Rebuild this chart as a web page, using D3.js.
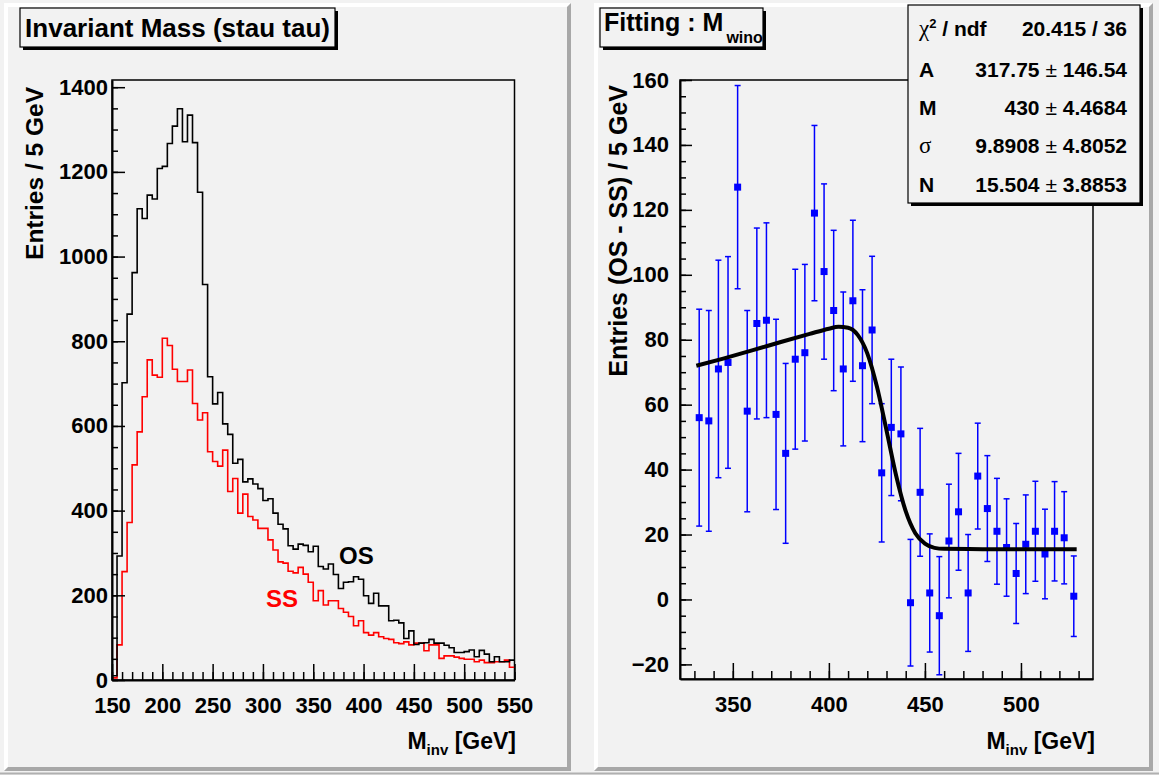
<!DOCTYPE html>
<html>
<head>
<meta charset="utf-8">
<script src="https://cdn.jsdelivr.net/npm/d3@7"></script>
<style>
  body { margin: 0; background: #f2f2f2; }
  text { font-family: "Liberation Sans", Arial, Helvetica, sans-serif; font-weight: bold; fill: #000; }
  .sym { font-family: "Liberation Serif", "Times New Roman", serif; font-weight: normal; }
</style>
</head>
<body>
<svg id="chart" width="1159" height="775"></svg>
<script>
// ---- left pad: invariant mass, 5 GeV bins from 150 to 550
var massBinLow = 150;
var massBinWidth = 5;
var osCounts = [10, 293, 702, 864, 962, 1113, 1090, 1145, 1136, 1208,
    1213, 1267, 1308, 1349, 1271, 1334, 1269, 1152, 934, 716,
    652, 679, 605, 580, 512, 521, 468, 475, 463, 452,
    424, 428, 394, 368, 357, 317, 309, 321, 318, 303,
    316, 268, 262, 274, 249, 216, 231, 232, 244, 238,
    199, 181, 205, 175, 175, 140, 141, 135, 98, 116,
    84, 87, 88, 96, 87, 87, 82, 76, 65, 65,
    67, 71, 55, 70, 61, 43, 55, 43, 43, 47];
var ssCounts = [5, 83, 256, 372, 508, 586, 669, 756, 720, 715,
    807, 790, 734, 705, 705, 732, 653, 614, 631, 539,
    516, 505, 543, 445, 476, 394, 439, 386, 378, 358,
    358, 331, 307, 279, 276, 257, 253, 266, 250, 231,
    187, 211, 177, 187, 187, 169, 160, 150, 128, 140,
    112, 106, 112, 102, 98, 96, 88, 86, 90, 83,
    87, 87, 69, 83, 83, 51, 57, 57, 54, 51,
    49, 49, 43, 47, 41, 41, 43, 43, 47, 30];
var leftXTicks = [150, 200, 250, 300, 350, 400, 450, 500, 550];
var leftYTicks = [0, 200, 400, 600, 800, 1000, 1200, 1400];

// ---- right pad: OS - SS with fit
var diffMass = [332.5, 337.5, 342.5, 347.5, 352.5, 357.5, 362.5, 367.5, 372.5, 377.5,
    382.5, 387.5, 392.5, 397.5, 402.5, 407.5, 412.5, 417.5, 422.5, 427.5,
    432.5, 437.5, 442.5, 447.5, 452.5, 457.5, 462.5, 467.5, 472.5, 477.5,
    482.5, 487.5, 492.5, 497.5, 502.5, 507.5, 512.5, 517.5, 522.5, 527.5];
var diffEntries = [56, 55, 71, 73, 127, 58, 85, 86, 57, 45,
    74, 76, 119, 101, 89, 71, 92, 72, 83, 39,
    53, 51, -1, 33, 2, -5, 18, 27, 2, 38,
    28, 21, 16, 8, 17, 21, 14, 21, 19, 1];
var diffErrors = [33.4, 34, 33.5, 32.6, 31.3, 31, 29.4, 30, 29.3, 27.7,
    27.7, 27.2, 27, 27, 24.7, 23.7, 24.8, 23.4, 22.7, 21.3,
    21, 20.6, 19.5, 19.7, 18.2, 18.2, 17.5, 18, 18, 16.3,
    16.3, 16.3, 15, 15.4, 15.2, 15.4, 13.8, 15.3, 14.2, 12.4];
var fitMass = [331, 345, 360, 375, 390, 400, 405, 410, 415, 420, 425,
    430, 435, 440, 445, 450, 455, 460, 480, 505, 529];
var fitValue = [72, 74.2, 76.7, 79.3, 81.8, 83.4, 84, 83.7, 81.5, 75.8, 65.6,
    52.1, 38.2, 27.2, 20.4, 17.2, 15.9, 15.6, 15.5, 15.5, 15.5];
var rightXTicks = [350, 400, 450, 500];
var rightYTicks = [-20, 0, 20, 40, 60, 80, 100, 120, 140, 160];

var statNames = ["ndf", "A", "M", "σ", "N"];
var statValues = ["20.415 / 36", "317.75", "430", "9.8908", "15.504"];
var statErrors = [null, "146.54", "4.4684", "4.8052", "3.8853"];

var svg = d3.select("#chart");

// pads with bevel
function drawPad(x0, y0, x1, y1) {
    var b = 4;
    svg.append("rect").attr("x", x0).attr("y", y0).attr("width", x1 - x0).attr("height", y1 - y0)
        .attr("fill", "#f2f2f2");
    svg.append("polygon")
        .attr("points", [[x0, y0], [x1, y0], [x1 - b, y0 + b], [x0 + b, y0 + b], [x0 + b, y1 - b], [x0, y1]].join(" "))
        .attr("fill", "#ffffff");
    svg.append("polygon")
        .attr("points", [[x1, y0], [x1, y1], [x0, y1], [x0 + b, y1 - b], [x1 - b, y1 - b], [x1 - b, y0 + b]].join(" "))
        .attr("fill", "#a8a8a8");
}
svg.append("rect").attr("width", 1159).attr("height", 775).attr("fill", "#f2f2f2");
svg.append("line").attr("x1", 0).attr("x2", 1159).attr("y1", 773.5).attr("y2", 773.5).attr("stroke", "#b0b0b0").attr("stroke-width", 2);
drawPad(4, 3, 571, 771);
drawPad(594, 3, 1153, 771);

function titleBox(x, y, w, h) {
    svg.append("rect").attr("x", x + 3).attr("y", y + 3).attr("width", w).attr("height", h).attr("fill", "#000");
    svg.append("rect").attr("x", x).attr("y", y).attr("width", w).attr("height", h)
        .attr("fill", "#f2f2f2").attr("stroke", "#000").attr("stroke-width", 1.2);
}

function styleAxis(g) {
    g.select(".domain").attr("stroke-width", 2);
    g.selectAll(".tick line").attr("stroke-width", 1.5);
    g.selectAll("text").attr("font-size", 22).attr("fill", "#000");
}

// ================= left pad =================
var xL = d3.scaleLinear().domain([150, 550]).range([112, 514.5]);
var yL = d3.scaleLinear().domain([0, 1417]).range([680, 80]);

var left = svg.append("g");
left.append("rect").attr("x", 112).attr("y", 80).attr("width", 402.5).attr("height", 600)
    .attr("fill", "none").attr("stroke", "#000").attr("stroke-width", 1.5);

function stepData(counts) {
    var pts = counts.map(function(c, i) { return [massBinLow + i * massBinWidth, c]; });
    pts.push([massBinLow + counts.length * massBinWidth, counts[counts.length - 1]]);
    return pts;
}
var histLine = d3.line().curve(d3.curveStepAfter)
    .x(function(d) { return xL(d[0]); })
    .y(function(d) { return yL(d[1]); });

left.append("path").datum(stepData(ssCounts)).attr("d", histLine)
    .attr("fill", "none").attr("stroke", "#ff0000").attr("stroke-width", 1.6);
left.append("path").datum(stepData(osCounts)).attr("d", histLine)
    .attr("fill", "none").attr("stroke", "#000").attr("stroke-width", 1.6);

// minor ticks
left.append("g").attr("transform", "translate(112,0)")
    .call(d3.axisLeft(yL).tickValues(d3.range(0, 1401, 50)).tickSize(-6).tickFormat(""))
    .call(function(g) { g.select(".domain").remove(); g.selectAll("line").attr("stroke-width", 1.5); });
left.append("g").attr("transform", "translate(0,680)")
    .call(d3.axisBottom(xL).tickValues(d3.range(150, 551, 10)).tickSize(-8).tickFormat(""))
    .call(function(g) { g.select(".domain").remove(); g.selectAll("line").attr("stroke-width", 1.5); });
// major ticks + labels
left.append("g").attr("transform", "translate(112,0)")
    .call(d3.axisLeft(yL).tickValues(leftYTicks).tickSize(-13).tickSizeOuter(0).tickPadding(4).tickFormat(d3.format("d")))
    .call(styleAxis);
left.append("g").attr("transform", "translate(0,680)")
    .call(d3.axisBottom(xL).tickValues(leftXTicks).tickSize(-16).tickSizeOuter(0).tickPadding(17).tickFormat(d3.format("d")))
    .call(styleAxis);

left.append("text").attr("transform", "translate(43,87) rotate(-90)")
    .attr("text-anchor", "end").attr("font-size", 24.5).text("Entries / 5 GeV");
var lx = left.append("text").attr("x", 516).attr("y", 749).attr("text-anchor", "end").attr("font-size", 23);
lx.append("tspan").text("M");
lx.append("tspan").attr("font-size", 15).attr("dy", 6).text("inv");
lx.append("tspan").attr("dy", -6).text(" [GeV]");

left.append("text").attr("x", 339).attr("y", 564).attr("font-size", 24).text("OS");
left.append("text").attr("x", 266).attr("y", 607).attr("font-size", 24).style("fill", "#ff0000").text("SS");

titleBox(20, 8, 315, 39);
svg.append("text").attr("x", 177.5).attr("y", 37).attr("text-anchor", "middle").attr("font-size", 26)
    .text("Invariant Mass (stau tau)");

// ================= right pad =================
var xR = d3.scaleLinear().domain([322.5, 537.5]).range([680, 1093]);
var yR = d3.scaleLinear().domain([-24.5, 160]).range([679, 80]);

var right = svg.append("g");
right.append("rect").attr("x", 680).attr("y", 80).attr("width", 413).attr("height", 599)
    .attr("fill", "none").attr("stroke", "#000").attr("stroke-width", 1.5);

right.append("g").attr("transform", "translate(680,0)")
    .call(d3.axisLeft(yR).tickValues(d3.range(-20, 161, 5)).tickSize(-6).tickFormat(""))
    .call(function(g) { g.select(".domain").remove(); g.selectAll("line").attr("stroke-width", 1.5); });
right.append("g").attr("transform", "translate(0,679)")
    .call(d3.axisBottom(xR).tickValues(d3.range(330, 531, 10)).tickSize(-8).tickFormat(""))
    .call(function(g) { g.select(".domain").remove(); g.selectAll("line").attr("stroke-width", 1.5); });
right.append("g").attr("transform", "translate(680,0)")
    .call(d3.axisLeft(yR).tickValues(rightYTicks).tickSize(-12).tickSizeOuter(0).tickPadding(11).tickFormat(d3.format("d")))
    .call(styleAxis);
right.append("g").attr("transform", "translate(0,679)")
    .call(d3.axisBottom(xR).tickValues(rightXTicks).tickSize(-16).tickSizeOuter(0).tickPadding(17).tickFormat(d3.format("d")))
    .call(styleAxis);

// error bars and markers
var pts = right.append("g").selectAll("g").data(diffMass).join("g");
pts.append("line")
    .attr("x1", function(d) { return xR(d); }).attr("x2", function(d) { return xR(d); })
    .attr("y1", function(d, i) { return yR(diffEntries[i] - diffErrors[i]); })
    .attr("y2", function(d, i) { return yR(diffEntries[i] + diffErrors[i]); })
    .attr("stroke", "#0000ff").attr("stroke-width", 1.5);
[-1, 1].forEach(function(s) {
    pts.append("line")
        .attr("x1", function(d) { return xR(d) - 3; }).attr("x2", function(d) { return xR(d) + 3; })
        .attr("y1", function(d, i) { return yR(diffEntries[i] + s * diffErrors[i]); })
        .attr("y2", function(d, i) { return yR(diffEntries[i] + s * diffErrors[i]); })
        .attr("stroke", "#0000ff").attr("stroke-width", 1.5);
});
pts.append("rect")
    .attr("x", function(d) { return xR(d) - 3.5; })
    .attr("y", function(d, i) { return yR(diffEntries[i]) - 3.5; })
    .attr("width", 7).attr("height", 7).attr("fill", "#0000ff");

// fit curve
right.append("path")
    .datum(fitMass.map(function(m, i) { return [m, fitValue[i]]; }))
    .attr("d", d3.line().curve(d3.curveMonotoneX)
        .x(function(d) { return xR(d[0]); })
        .y(function(d) { return yR(d[1]); }))
    .attr("fill", "none").attr("stroke", "#000").attr("stroke-width", 4);

right.append("text").attr("transform", "translate(627,85) rotate(-90)")
    .attr("text-anchor", "end").attr("font-size", 25).text("Entries (OS - SS) / 5 GeV");
var rx = right.append("text").attr("x", 1095).attr("y", 749).attr("text-anchor", "end").attr("font-size", 23);
rx.append("tspan").text("M");
rx.append("tspan").attr("font-size", 15).attr("dy", 6).text("inv");
rx.append("tspan").attr("dy", -6).text(" [GeV]");

titleBox(600, 8, 163, 39);
var rt = svg.append("text").attr("x", 604).attr("y", 31).attr("font-size", 25);
rt.append("tspan").text("Fitting : M");
rt.append("tspan").attr("font-size", 16).attr("dy", 12).attr("dx", 3).text("wino");

// stats box
svg.append("rect").attr("x", 911).attr("y", 8).attr("width", 232).attr("height", 198).attr("fill", "#000");
svg.append("rect").attr("x", 908).attr("y", 5).attr("width", 232).attr("height", 198)
    .attr("fill", "#f2f2f2").attr("stroke", "#000").attr("stroke-width", 1.2);
var rowY = [36, 77, 115, 153, 192];
statNames.forEach(function(name, i) {
    var t = svg.append("text").attr("x", 919).attr("y", rowY[i]).attr("font-size", 21);
    if (i === 0) {
        t.append("tspan").attr("class", "sym").attr("font-size", 23).text("χ");
        t.append("tspan").attr("font-size", 13).attr("dy", -8).text("2");
        t.append("tspan").attr("dy", 8).text(" / ndf");
    } else if (name === "σ") {
        t.append("tspan").attr("class", "sym").attr("font-size", 23).text("σ");
    } else {
        t.text(name);
    }
    var v = svg.append("text").attr("x", 1127).attr("y", rowY[i]).attr("text-anchor", "end").attr("font-size", 21);
    if (statErrors[i] === null) {
        v.text(statValues[i]);
    } else {
        v.append("tspan").text(statValues[i] + " ");
        v.append("tspan").attr("font-weight", "normal").text("±");
        v.append("tspan").text(" " + statErrors[i]);
    }
});
</script>
</body>
</html>
